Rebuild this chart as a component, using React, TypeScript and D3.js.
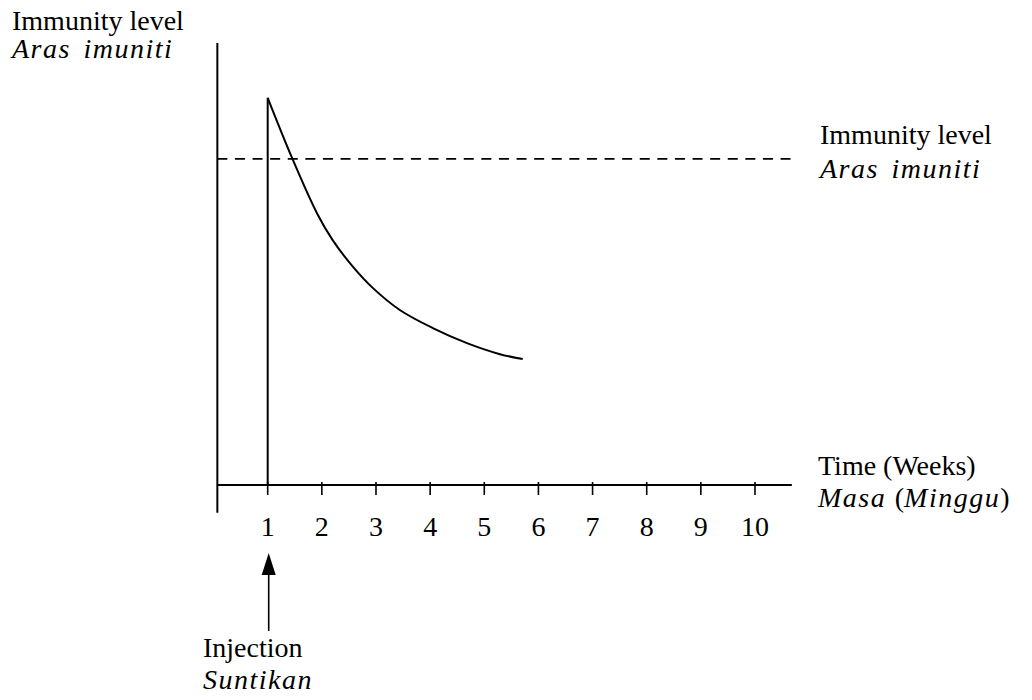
// @ts-nocheck
import React, { useEffect, useRef } from 'react'
import * as d3 from 'd3'

// Time axis (weeks)
const weeks = [1, 2, 3, 4, 5, 6, 7, 8, 9, 10]
const tickLabels = ['1', '2', '3', '4', '5', '6', '7', '8', '9', '10']

// Immunity after injection (arbitrary units)
const curveWeeks = [1.0, 1.45, 1.91, 2.2, 2.58, 2.94, 3.44, 4.05, 4.68, 5.29, 5.71]
const curveLevels = [8.76, 7.4, 6.15, 5.54, 4.93, 4.46, 3.96, 3.55, 3.21, 2.96, 2.85]

const immunityLevel = 7.38
const injectionWeek = 1

const FONT = '"Liberation Serif", "Times New Roman", serif'

export const App: React.FC = () => {
    const ref = useRef<SVGSVGElement>(null)

    useEffect(() => {
        const width = 1032,
            height = 700

        const x = d3.scaleLinear([1, 10], [267.7, 755])
        const y = d3.scaleLinear([0, 10], [485, 43])

        const svg = d3.select(ref.current)
            .attr('width', width)
            .attr('height', height)
        svg.selectAll('*').remove()

        const xStart = x(0.07)

        // y-axis
        svg.append('line')
            .attr('x1', xStart).attr('x2', xStart)
            .attr('y1', y(10)).attr('y2', y(-0.63))
            .attr('stroke', '#000').attr('stroke-width', 2)

        // x-axis
        svg.append('line')
            .attr('x1', xStart).attr('x2', x(10.68))
            .attr('y1', y(0)).attr('y2', y(0))
            .attr('stroke', '#000').attr('stroke-width', 2)

        // ticks
        svg.append('g')
            .selectAll('line')
            .data(weeks)
            .join('line')
            .attr('x1', d => x(d)).attr('x2', d => x(d))
            .attr('y1', y(0) - 3).attr('y2', y(0) + 10)
            .attr('stroke', '#000').attr('stroke-width', 1.6)

        svg.append('g')
            .selectAll('text')
            .data(weeks)
            .join('text')
            .attr('x', d => x(d))
            .attr('y', 536)
            .attr('text-anchor', 'middle')
            .attr('font-family', FONT)
            .attr('font-size', 28)
            .text((d, i) => tickLabels[i])

        // immunity threshold
        svg.append('line')
            .attr('x1', xStart).attr('x2', x(10.78))
            .attr('y1', y(immunityLevel)).attr('y2', y(immunityLevel))
            .attr('stroke', '#000').attr('stroke-width', 1.8)
            .attr('stroke-dasharray', '10 7.6')

        // injection vertical
        svg.append('line')
            .attr('x1', x(injectionWeek)).attr('x2', x(injectionWeek))
            .attr('y1', y(0)).attr('y2', y(curveLevels[0]))
            .attr('stroke', '#000').attr('stroke-width', 2)

        // decay curve
        const line = d3.line()
            .x(d => x(d[0]))
            .y(d => y(d[1]))
            .curve(d3.curveCatmullRom)
        svg.append('path')
            .attr('fill', 'none')
            .attr('stroke', '#000')
            .attr('stroke-width', 2)
            .attr('d', line(curveWeeks.map((w, i) => [w, curveLevels[i]])))

        // injection arrow
        const ax = x(injectionWeek) + 1
        svg.append('line')
            .attr('x1', ax).attr('x2', ax)
            .attr('y1', 572).attr('y2', 631)
            .attr('stroke', '#000').attr('stroke-width', 1.6)
        svg.append('path')
            .attr('d', `M${ax},553 L${ax - 7},575 L${ax + 7},575 Z`)
            .attr('fill', '#000')

        // labels
        const label = (tx, ty, txt, italic = false) => {
            const t = svg.append('text')
                .attr('x', tx).attr('y', ty)
                .attr('font-family', FONT)
                .attr('font-size', 28)
            if (italic) t.attr('font-style', 'italic').attr('letter-spacing', 1.5).attr('word-spacing', 4)
            t.text(txt)
            return t
        }

        label(12, 30, 'Immunity level')
        label(12, 58, 'Aras imuniti', true)

        label(820, 144, 'Immunity level')
        label(820, 178, 'Aras imuniti', true)

        label(818, 475, 'Time (Weeks)')
        const masa = svg.append('text')
            .attr('x', 818).attr('y', 507)
            .attr('font-family', FONT)
            .attr('font-size', 28)
        masa.append('tspan').attr('font-style', 'italic').attr('letter-spacing', 1.5).text('Masa ')
        masa.append('tspan').text('(')
        masa.append('tspan').attr('font-style', 'italic').attr('letter-spacing', 1.5).text('Minggu')
        masa.append('tspan').text(')')

        label(203, 657, 'Injection')
        label(203, 689, 'Suntikan', true)
    }, [])

    return <div style={{ position: 'absolute', left: 0, top: 0 }}>
        <svg ref={ref} width='1032' height='700' style={{ display: 'block', background: '#fff' }}></svg>
    </div>
}

export default App
